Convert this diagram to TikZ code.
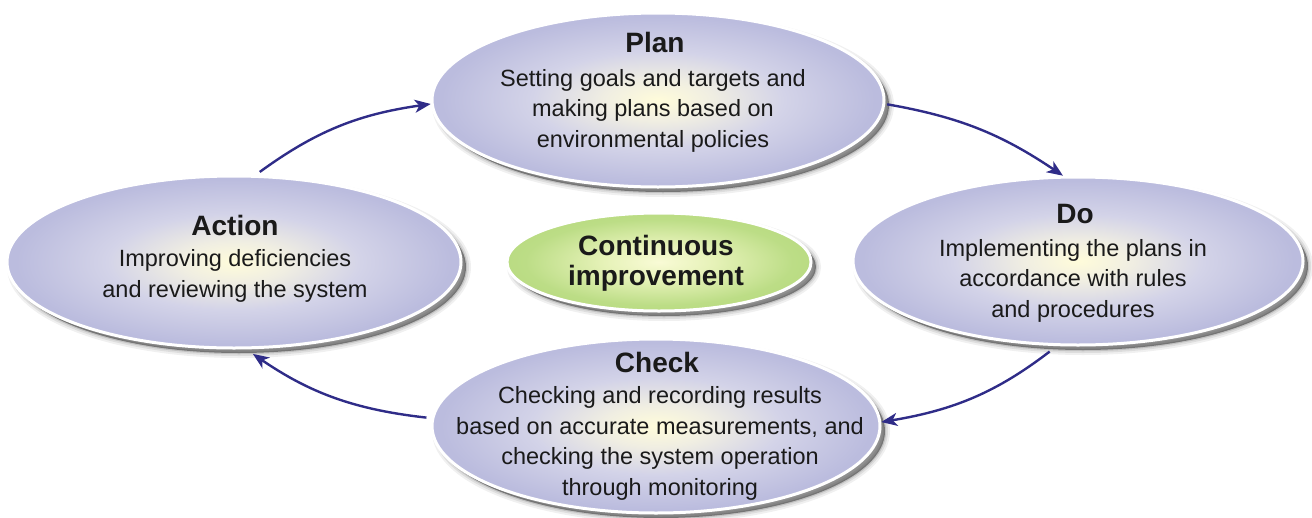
\documentclass[tikz,border=0pt]{standalone}
\usepackage{fontspec}
\setmainfont{Liberation Sans}
\usetikzlibrary{shapes.geometric,arrows.meta}

% palette
\definecolor{petalcore}{HTML}{FFFCDA}
\definecolor{petalsoft}{HTML}{F0EEE2}
\definecolor{petalmid}{HTML}{D3D3E8}
\definecolor{petalbody}{HTML}{BBBCDE}
\definecolor{petaldeep}{HTML}{B3B4DA}
\definecolor{petalrim}{HTML}{9A9DD0}
\definecolor{petaledge}{HTML}{7F84C2}
\definecolor{hubcore}{HTML}{F9FBD6}
\definecolor{hubsoft}{HTML}{E6F2B8}
\definecolor{hubbody}{HTML}{BCDD86}
\definecolor{hubdeep}{HTML}{ADD46F}
\definecolor{hubedge}{HTML}{8CC148}
\definecolor{cycleblue}{HTML}{2F2C88}
\definecolor{inktext}{HTML}{1A1A1A}

% elliptical glow: warm centre, lavender body, darker rim
\pgfdeclareradialshading{petalglow}{\pgfpoint{0bp}{0bp}}{%
  color(0bp)=(petalcore); color(6bp)=(petalsoft); color(14bp)=(petalmid);
  color(24bp)=(petalbody); color(42bp)=(petaldeep); color(47bp)=(petalrim);
  color(50bp)=(petaledge)}
\pgfdeclareradialshading{hubglow}{\pgfpoint{0bp}{0bp}}{%
  color(0bp)=(hubcore); color(9bp)=(hubsoft); color(22bp)=(hubbody);
  color(44bp)=(hubdeep); color(50bp)=(hubedge)}

\tikzset{
  softshadow/.style={
    preaction={fill=black, fill opacity=0.40, draw=black, draw opacity=0.06,
      line width=10pt, transform canvas={shift={(5pt,-5pt)}}},
    preaction={draw=black, draw opacity=0.08, line width=6pt,
      transform canvas={shift={(5pt,-5pt)}}},
    preaction={draw=black, draw opacity=0.12, line width=2.5pt,
      transform canvas={shift={(5pt,-5pt)}}}},
  petal/.style={ellipse, inner sep=0pt, softshadow, shade, shading=petalglow,
    draw=white, line width=3pt},
  hub/.style={ellipse, inner sep=0pt, softshadow, shade, shading=hubglow,
    draw=white, line width=3pt},
  headtext/.style={text=inktext, font=\fontsize{28}{32}\selectfont\bfseries,
    inner sep=0pt},
  bodytext/.style={text=inktext, align=center, inner sep=0pt,
    font=\fontsize{23.5}{30.5}\selectfont},
  cyclearrow/.style={draw=cycleblue, line width=2.4pt,
    -{Stealth[length=16pt, width=13pt, inset=4.5pt]}},
}

\begin{document}
\begin{tikzpicture}[x=1pt, y=-1pt]
  \useasboundingbox (0,0) rectangle (1312,517);

  % the four stages and the hub
  \node[petal, minimum width=452pt, minimum height=174pt] (plan)   at (658,100)  {};
  \node[petal, minimum width=450pt, minimum height=168pt] (do)     at (1078,261) {};
  \node[petal, minimum width=448pt, minimum height=174pt] (check)  at (656,426)  {};
  \node[petal, minimum width=454pt, minimum height=172pt] (action) at (234,262)  {};
  \node[hub,   minimum width=304pt, minimum height=98pt]  (hub)    at (659,262)  {};

  % labels (multi-line blocks sit on the baseline of their last line)
  \node[headtext, anchor=base] (plan-head) at (655,52) {Plan};
  \node[bodytext, anchor=base] (plan-body) at (653,147)
    {Setting goals and targets and\\making plans based on\\environmental policies};

  \node[headtext, anchor=base] (do-head) at (1075,223) {Do};
  \node[bodytext, anchor=base] (do-body) at (1073,317)
    {Implementing the plans in\\accordance with rules\\and procedures};

  \node[headtext, anchor=base] (check-head) at (657,372) {Check};
  \node[bodytext, anchor=base] (check-body) at (660,495)
    {Checking and recording results\\based on accurate measurements, and\\checking the system operation\\through monitoring};

  \node[headtext, anchor=base] (action-head) at (235,235) {Action};
  \node[bodytext, anchor=base] (action-body) at (235,297)
    {Improving deficiencies\\and reviewing the system};

  \node[headtext, align=center, font=\fontsize{28}{30}\selectfont\bfseries,
        anchor=base] (hub-text) at (656,285) {Continuous\\improvement};

  % the improvement cycle
  \draw[cyclearrow, shorten <=5pt] (action.76) to[bend left=14] (plan.181);
  \draw[cyclearrow, shorten <=2pt] (plan.359) to[bend left=12] (do.100);
  \draw[cyclearrow, shorten <=9pt] (do.256) to[bend left=14] (check.1);
  \draw[cyclearrow, shorten <=5pt, shorten >=8pt] (check.178) to[bend left=14] (action.278);
\end{tikzpicture}
\end{document}
